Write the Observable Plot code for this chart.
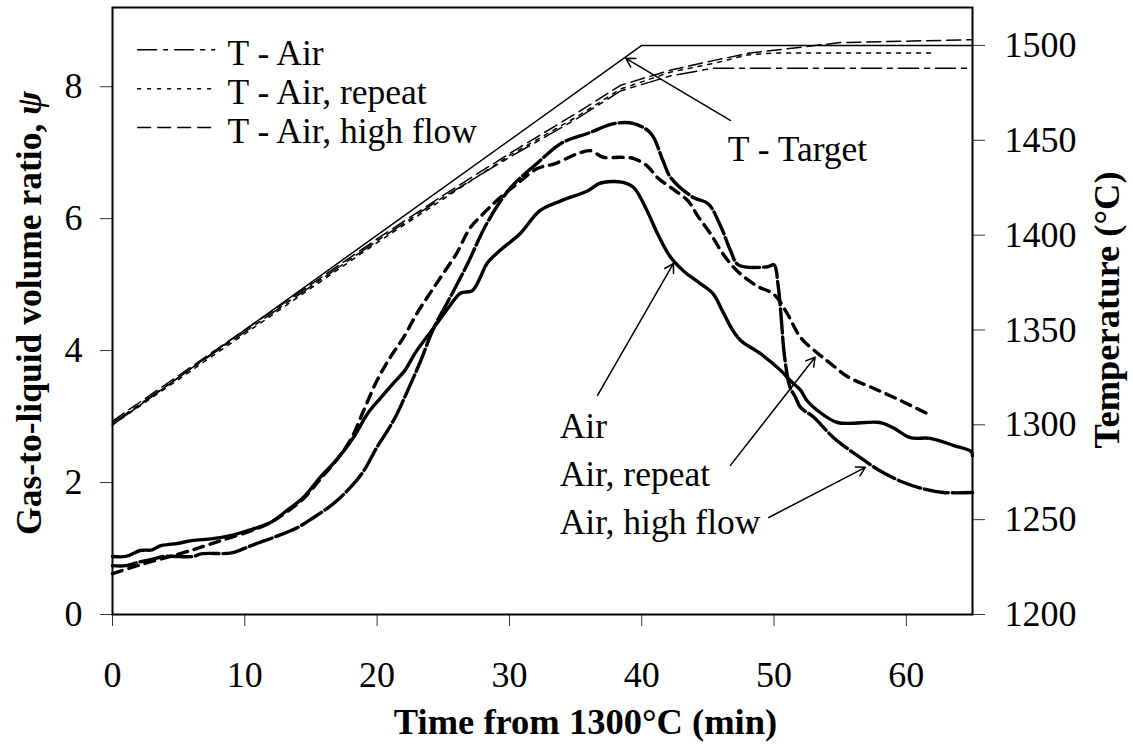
<!DOCTYPE html>
<html><head><meta charset="utf-8">
<script src="https://cdn.jsdelivr.net/npm/d3@7"></script>
<script src="https://cdn.jsdelivr.net/npm/@observablehq/plot@0.6"></script>
<style>body{margin:0;background:#fff} svg{display:block}</style>
</head><body><div id="chart"></div>
<script>
// ---- data: [time (min), value] ----
const airPsi = [[0,0.88],[1,0.88],[2.1,0.97],[3,0.98],[3.6,1.04],[5,1.08],[6,1.12],[7.6,1.15],[9,1.2],[10.2,1.27],[11.9,1.39],[13.2,1.58],[14.4,1.77],[15.7,2.08],[17,2.36],[18.2,2.68],[19.3,3.05],[20.3,3.29],[21.2,3.5],[22.1,3.7],[22.9,3.97],[24.3,4.35],[25.5,4.68],[26.3,4.87],[27.2,4.91],[27.8,5.11],[28.3,5.32],[29.3,5.52],[30.8,5.77],[32.3,6.12],[33.9,6.27],[35.9,6.42],[36.9,6.54],[38.6,6.55],[39.4,6.47],[40.4,6.12],[41.2,5.77],[42.2,5.41],[43.2,5.2],[44.4,5.02],[45.4,4.86],[46.1,4.6],[46.9,4.3],[47.5,4.15],[49,3.95],[50.5,3.7],[51.2,3.55],[52,3.4],[52.5,3.24],[53.3,3.09],[54.8,2.91],[58,2.91],[59,2.83],[60.3,2.68],[61.8,2.67],[63.6,2.56],[64.9,2.47],[65,2.41]];
const repeatPsi = [[0,0.62],[1.4,0.71],[2.9,0.8],[4.4,0.88],[5.9,0.97],[6.7,1.02],[8.2,1.12],[10.5,1.27],[11.9,1.39],[13.2,1.56],[14.4,1.75],[15.7,2.05],[17,2.36],[18,2.65],[19,3.1],[20,3.55],[21,3.9],[22,4.2],[23,4.56],[24,4.87],[25,5.17],[26,5.47],[27,5.85],[28,6.07],[29.3,6.32],[30.6,6.53],[32.1,6.76],[33.4,6.83],[35.1,6.98],[36.1,7.03],[37.1,6.93],[38.4,6.93],[39.4,6.91],[40.4,6.8],[41.2,6.62],[42.2,6.47],[43.5,6.27],[44.2,6.05],[45.2,5.77],[46.2,5.45],[47.2,5.21],[48.7,4.98],[50,4.85],[51,4.56],[52,4.2],[53.3,3.96],[54.3,3.8],[55.6,3.6],[57.5,3.43],[59.6,3.24],[61.6,3.04]];
const highFlowPsi = [[0,0.74],[1,0.74],[1.9,0.79],[2.9,0.83],[3.9,0.88],[6.1,0.88],[6.7,0.92],[8.9,0.93],[9.7,0.98],[10.7,1.06],[12.2,1.17],[14,1.32],[15.2,1.47],[16.7,1.68],[18,1.93],[19,2.18],[20,2.54],[20.8,2.79],[21.5,3.04],[22.3,3.39],[23.2,3.8],[24.3,4.35],[25.5,4.8],[26.8,5.3],[28.3,5.93],[30.1,6.47],[32.1,6.84],[33.9,7.14],[35.9,7.29],[37.9,7.44],[39.4,7.44],[40.7,7.29],[41.6,6.88],[42.2,6.62],[43.9,6.32],[45,6.23],[46,5.87],[46.7,5.52],[47.3,5.3],[49.5,5.27],[50,5.3],[50.3,5.0],[50.5,4.6],[50.8,3.9],[51.2,3.45],[51.6,3.3],[52,3.14],[53,2.99],[54.5,2.68],[56.5,2.38],[58,2.18],[59.8,2.0],[61,1.92],[62.8,1.85],[65,1.85]];

const tempTarget = [[0,1300],[40,1500],[65,1500]];
const tempAir = [[0,1301],[5,1325],[10,1349],[15,1373],[20,1397],[25,1420],[30,1441],[35,1461],[38.4,1476],[42.2,1484],[45.4,1488],[65,1488]];
const tempRepeat = [[0,1300],[5,1324],[10,1348],[15,1372],[20,1396],[25,1419],[30,1442],[35,1462],[38.4,1477],[42.2,1486],[45.4,1490.5],[48,1495],[50,1496],[62,1496]];
const tempHighFlow = [[0,1302],[5,1326],[10,1350],[15,1374],[20,1398],[25,1421],[30,1443],[35,1464],[38.4,1479],[42.2,1487],[45.4,1492],[48.2,1496],[55,1501.5],[65,1503]];

const xTicks = [0,10,20,30,40,50,60];
const psiTicks = [0,2,4,6,8];
const tempTicks = [1200,1250,1300,1350,1400,1450,1500];
const legendLabels = ["T - Air","T - Air, repeat","T - Air, high flow"];
const annotationLabels = ["Air","Air, repeat","Air, high flow"];

// secondary (temperature) axis mapped onto the primary y scale
const t2psi = d3.scaleLinear([1200,1520],[0,9.2]);

const FONT = "'Liberation Serif','Times New Roman',Times,serif";
const thin = 1.5, thick = 3.4;
const legendDash = ["20,6,5,6","4,6","14,6"];

const tempLine = (data, dash) => Plot.line(data, {x: d=>d[0], y: d=>t2psi(d[1]), stroke:"#000", strokeWidth: thin, strokeDasharray: dash});

const chart = Plot.plot({
  width: 1133, height: 749,
  marginLeft: 112, marginRight: 161, marginTop: 7, marginBottom: 135,
  style: {fontFamily: FONT, fontSize: "36px", color: "#000", background: "#fff", overflow: "visible"},
  x: {domain: [0,65]},
  y: {domain: [0,9.2]},
  marks: [
    Plot.axisX({ticks: xTicks, tickSize: 12, tickPadding: 35, tickFormat: d=>String(d), label: null, stroke:"#333"}),
    Plot.axisY({ticks: psiTicks, tickSize: 12, tickPadding: 18, tickFormat: d=>String(d), label: null, stroke:"#333"}),
    Plot.axisY({anchor: "right", ticks: tempTicks.map(t2psi), tickFormat: d=>String(Math.round(t2psi.invert(d))), tickSize: 12, tickPadding: 20, label: null, stroke:"#333"}),
    // temperatures
    tempLine(tempTarget, null),
    tempLine(tempAir, "20,6,5,6"),
    tempLine(tempRepeat, "4,6"),
    tempLine(tempHighFlow, "14,6"),
    // gas-to-liquid ratios
    Plot.line(airPsi, {x: d=>d[0], y: d=>d[1], stroke:"#000", strokeWidth: thick, curve:"catmull-rom"}),
    Plot.line(repeatPsi, {x: d=>d[0], y: d=>d[1], stroke:"#000", strokeWidth: thick, strokeDasharray:"10,7", curve:"catmull-rom"}),
    Plot.line(highFlowPsi, {x: d=>d[0], y: d=>d[1], stroke:"#000", strokeWidth: thick, strokeDasharray:"24,4", curve:"catmull-rom"}),
    Plot.frame({stroke:"#000", strokeWidth: 2}),
    // legend (inside plot, top-left)
    ...legendLabels.map((lab,i) => Plot.ruleY([8.56 - i*0.59], {x1: 1.9, x2: 7.8, stroke:"#000", strokeWidth: thin, strokeDasharray: legendDash[i]})),
    Plot.text(legendLabels, {x: 8.7, y: (d,i)=>8.50 - i*0.59, text: d=>d, textAnchor:"start", fontSize: 35.5}),
    // annotations
    Plot.text(["T - Target"], {x: 46.5, y: 7.05, text: d=>d, textAnchor:"start", fontSize: 35.5}),
    Plot.arrow([0], {x1: 46.7, y1: 7.49, x2: 38.8, y2: 8.43, stroke:"#000", strokeWidth: 1.5, headLength: 10}),
    Plot.text(annotationLabels, {x: 33.8, y: (d,i)=>2.85 - i*0.73, text: d=>d, textAnchor:"start", fontSize: 35.5}),
    Plot.arrow([0], {x1: 36.66, y1: 3.32, x2: 42.4, y2: 5.32, stroke:"#000", strokeWidth: 1.5, headLength: 10}),
    Plot.arrow([0], {x1: 46.7, y1: 2.26, x2: 53.1, y2: 3.9, stroke:"#000", strokeWidth: 1.5, headLength: 10}),
    Plot.arrow([0], {x1: 49.6, y1: 1.47, x2: 56.9, y2: 2.23, stroke:"#000", strokeWidth: 1.5, headLength: 10}),
    // axis titles
    Plot.text(["Time from 1300°C (min)"], {frameAnchor:"bottom", dx: 43, dy: 119, text: d=>d, textAnchor:"middle", fontWeight:"bold", fontSize: 36.5}),
    Plot.text(["Gas-to-liquid volume ratio, ψ"], {frameAnchor:"left", rotate: -90, dx: -83, dy: 2, text: d=>d, textAnchor:"middle", fontWeight:"bold", fontSize: 35.5}),
    Plot.text(["Temperature (°C)"], {frameAnchor:"right", rotate: -90, dx: 135, dy: -1, text: d=>d, textAnchor:"middle", fontWeight:"bold", fontSize: 36.5})
  ]
});

// italic psi in the left axis title
chart.querySelectorAll("text").forEach(t => {
  if (t.textContent === "Gas-to-liquid volume ratio, ψ") {
    t.textContent = "Gas-to-liquid volume ratio, ";
    const ts = document.createElementNS("http://www.w3.org/2000/svg","tspan");
    ts.setAttribute("font-style","italic");
    ts.textContent = "ψ";
    t.appendChild(ts);
  }
});
document.getElementById("chart").appendChild(chart);
</script>
</body></html>
